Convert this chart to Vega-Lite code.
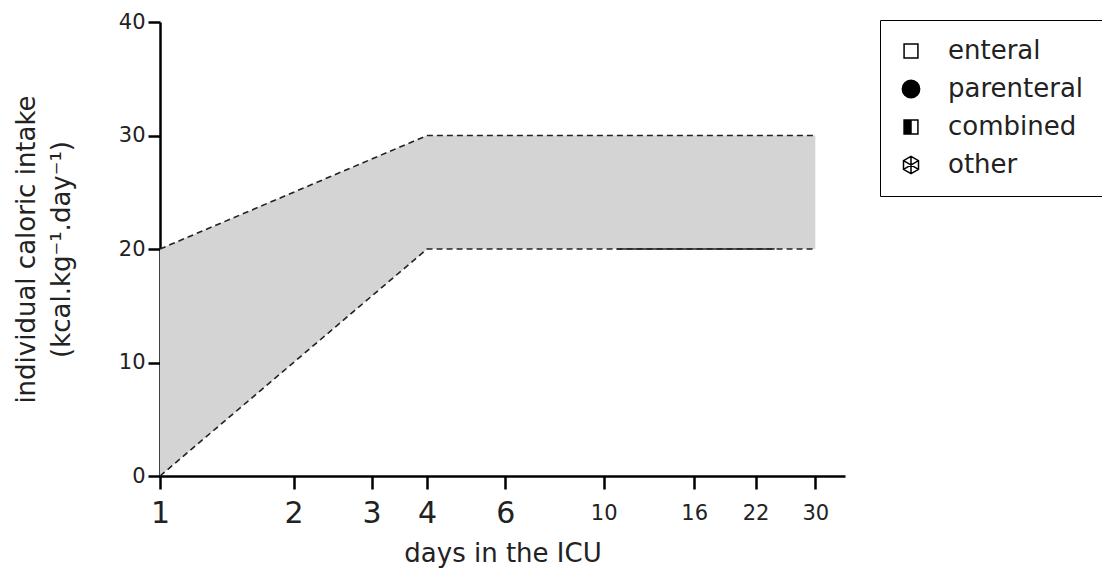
{
  "$schema": "https://vega.github.io/schema/vega-lite/v6.json",
  "width": 685,
  "height": 454,
  "autosize": "none",
  "padding": {"left": 160, "top": 22, "right": 257, "bottom": 92},
  "background": "white",
  "config": {
    "font": "DejaVu Sans",
    "view": {"stroke": null},
    "axis": {
      "grid": false,
      "domainColor": "black",
      "tickColor": "black",
      "labelColor": "#222",
      "titleColor": "#222",
      "domainWidth": 2.5,
      "tickWidth": 2.5,
      "titleFontWeight": "normal"
    }
  },
  "datasets": {
    "band": [
      {"day": 1, "low": 0, "high": 20},
      {"day": 4, "low": 20, "high": 30},
      {"day": 30, "low": 20, "high": 30}
    ],
    "lines": [
      {"series": "upper", "day": 1, "value": 20},
      {"series": "upper", "day": 4, "value": 30},
      {"series": "upper", "day": 30, "value": 30},
      {"series": "lower", "day": 1, "value": 0},
      {"series": "lower", "day": 4, "value": 20},
      {"series": "lower", "day": 30, "value": 20}
    ],
    "solid": [
      {"day": 10.7, "value": 20},
      {"day": 24.3, "value": 20}
    ],
    "legend": [
      {"type": "enteral"},
      {"type": "parenteral"},
      {"type": "combined"},
      {"type": "other"}
    ]
  },
  "layer": [
    {
      "data": {"name": "band"},
      "mark": {"type": "area", "color": "#d4d4d4", "opacity": 1},
      "encoding": {
        "x": {
          "field": "day",
          "type": "quantitative",
          "scale": {"type": "log", "domain": [1, 35], "nice": false},
          "axis": {
            "title": "days in the ICU",
            "titleFontSize": 26,
            "titlePadding": 12,
            "values": [1, 2, 3, 4, 6, 10, 16, 22, 30],
            "format": "d",
            "tickSize": 13,
            "labelPadding": 24,
            "labelBaseline": "middle",
            "labelFontSize": {"condition": {"test": "datum.value < 10", "value": 30}, "value": 21},
            "labelFlush": false,
            "labelOverlap": false
          }
        },
        "y": {
          "field": "low",
          "type": "quantitative",
          "scale": {"domain": [0, 40], "nice": false},
          "axis": {
            "title": ["individual caloric intake", "(kcal.kg⁻¹.day⁻¹)"],
            "titleFontSize": 26,
            "titleLineHeight": 35,
            "titlePadding": 44,
            "values": [0, 10, 20, 30, 40],
            "tickSize": 12,
            "labelPadding": 3,
            "labelFontSize": 21
          }
        },
        "y2": {"field": "high"}
      }
    },
    {
      "data": {"name": "lines"},
      "mark": {"type": "line", "strokeDash": [6, 4], "color": "#222", "strokeWidth": 1.6},
      "encoding": {
        "x": {"field": "day", "type": "quantitative"},
        "y": {"field": "value", "type": "quantitative"},
        "detail": {"field": "series"}
      }
    },
    {
      "data": {"name": "solid"},
      "mark": {"type": "line", "color": "#222", "strokeWidth": 1.6},
      "encoding": {
        "x": {"field": "day", "type": "quantitative"},
        "y": {"field": "value", "type": "quantitative"}
      }
    },
    {
      "data": {"name": "legend"},
      "mark": {"type": "point", "opacity": 0, "strokeWidth": 1.5},
      "encoding": {
        "shape": {
          "field": "type",
          "type": "nominal",
          "scale": {
            "domain": ["enteral", "parenteral", "combined", "other"],
            "range": [
              "M-0.8,-0.8H0.8V0.8H-0.8Z",
              "circle",
              "M-0.8,-0.8H0.8V0.8H-0.8Z M0,-0.8V0.8H0.8V-0.8Z",
              "M0,-1L0.866,-0.5L0.866,0.5L0,1L-0.866,0.5L-0.866,-0.5Z M0,-1L0,1 M0.866,-0.5L-0.866,0.5 M0.866,0.5L-0.866,-0.5"
            ]
          },
          "legend": {
            "orient": "none",
            "legendX": 720,
            "legendY": -2,
            "title": null,
            "strokeColor": "black",
            "fillColor": "white",
            "padding": 18,
            "labelFontSize": 26,
            "labelColor": "#222",
            "labelOffset": 24,
            "rowPadding": 12,
            "symbolSize": 300,
            "symbolStrokeWidth": 1.5,
            "symbolOpacity": 1,
            "encode": {
              "legend": {"update": {"strokeWidth": {"value": 1.5}}}
            }
          }
        },
        "fill": {
          "field": "type",
          "type": "nominal",
          "scale": {
            "domain": ["enteral", "parenteral", "combined", "other"],
            "range": ["white", "black", "black", "white"]
          }
        },
        "stroke": {
          "field": "type",
          "type": "nominal",
          "scale": {
            "domain": ["enteral", "parenteral", "combined", "other"],
            "range": ["black", "black", "black", "black"]
          }
        }
      }
    }
  ]
}
